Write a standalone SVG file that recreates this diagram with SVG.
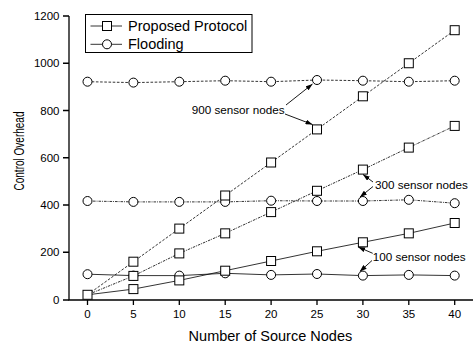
<svg xmlns="http://www.w3.org/2000/svg" xmlns:xlink="http://www.w3.org/1999/xlink" width="474" height="345" viewBox="0 0 474 345">
<style>
text{font-family:"Liberation Sans",Arial,sans-serif;fill:#000}
.tick{font-size:11.5px}
.ax{stroke:#000;stroke-width:1.3;fill:none}
.ln{fill:none;stroke:#000;stroke-width:0.8}
.d900{stroke-dasharray:2.6 1.6}
.d300{stroke-dasharray:2.6 1 0.9 1}
.mk{fill:#fff;stroke:#000;stroke-width:1}
.ann{font-size:11.7px}
.arr{stroke:#000;stroke-width:0.9;fill:none;marker-end:url(#ah)}
</style>
<defs>
<rect id="sq" x="-4.5" y="-4.5" width="9" height="9" class="mk"/>
<circle id="ci" r="4.5" class="mk"/>
<marker id="ah" viewBox="0 0 7 5" refX="7" refY="2.5" markerWidth="7" markerHeight="5" orient="auto" markerUnits="userSpaceOnUse">
<path d="M0,0 L7,2.5 L0,5 z" fill="#000"/>
</marker>
</defs>
<rect width="474" height="345" fill="#fff"/>
<g id="axes">
<path class="ax" d="M69,16 V300 H473"/>
<path class="ax" d="M63,300 H69 M63,252.25 H69 M63,205 H69 M63,157.75 H69 M63,110.5 H69 M63,63.25 H69 M63,16 H69"/>
<path class="ax" d="M87.5,300 V305 M133.4,300 V305 M179.3,300 V305 M225.2,300 V305 M271.1,300 V305 M317,300 V305 M362.9,300 V305 M408.8,300 V305 M454.7,300 V305"/>
<g class="tick" text-anchor="end">
<text x="59.5" y="303.5">0</text>
<text x="59.5" y="256.3">200</text>
<text x="59.5" y="209">400</text>
<text x="59.5" y="161.8">600</text>
<text x="59.5" y="114.5">800</text>
<text x="59.5" y="67.3">1000</text>
<text x="59.5" y="20">1200</text>
</g>
<g class="tick" text-anchor="middle">
<text x="87.5" y="318.3">0</text>
<text x="133.4" y="318.3">5</text>
<text x="179.3" y="318.3">10</text>
<text x="225.2" y="318.3">15</text>
<text x="271.1" y="318.3">20</text>
<text x="317" y="318.3">25</text>
<text x="362.9" y="318.3">30</text>
<text x="408.8" y="318.3">35</text>
<text x="454.7" y="318.3">40</text>
</g>
<text x="270.4" y="340.7" text-anchor="middle" font-size="14.5">Number of Source Nodes</text>
<text transform="translate(23.5,151) rotate(-90)" text-anchor="middle" font-size="15" textLength="79" lengthAdjust="spacingAndGlyphs">Control Overhead</text>
</g>
<g id="connectors">
<polyline class="ln d900" points="87.5,294.8 133.4,261.7 179.3,228.6 225.2,195.5 271.1,162.5 317,129.4 362.9,96.3 408.8,63.25 454.7,30.2"/>
<polyline class="ln d300" points="87.5,294.8 133.4,275.9 179.3,253.4 225.2,233.35 271.1,212.1 317,190.8 362.9,169.6 408.8,147.6 454.7,125.9"/>
<polyline class="ln" points="87.5,294.8 133.4,289.1 179.3,280.4 225.2,270.7 271.1,261 317,251.3 362.9,242.3 408.8,233.35 454.7,223"/>
<polyline class="ln d900" points="87.5,81.7 133.4,82.6 179.3,81.7 225.2,80.7 271.1,81.7 317,80 362.9,80.7 408.8,81.7 454.7,80.7"/>
<polyline class="ln d300" points="87.5,201 133.4,201.9 179.3,201.9 225.2,201.9 271.1,200.7 317,201 362.9,201 408.8,199.8 454.7,203.2"/>
<polyline class="ln" points="87.5,274.2 133.4,275.6 179.3,275.6 225.2,273.3 271.1,274.9 317,274 362.9,275.6 408.8,274.9 454.7,275.6"/>
</g>
<g id="flooding-markers">
<use xlink:href="#ci" x="87.5" y="81.7"/><use xlink:href="#ci" x="133.4" y="82.6"/><use xlink:href="#ci" x="179.3" y="81.7"/><use xlink:href="#ci" x="225.2" y="80.7"/><use xlink:href="#ci" x="271.1" y="81.7"/><use xlink:href="#ci" x="317" y="80"/><use xlink:href="#ci" x="362.9" y="80.7"/><use xlink:href="#ci" x="408.8" y="81.7"/><use xlink:href="#ci" x="454.7" y="80.7"/>
<use xlink:href="#ci" x="87.5" y="201"/><use xlink:href="#ci" x="133.4" y="201.9"/><use xlink:href="#ci" x="179.3" y="201.9"/><use xlink:href="#ci" x="225.2" y="201.9"/><use xlink:href="#ci" x="271.1" y="200.7"/><use xlink:href="#ci" x="317" y="201"/><use xlink:href="#ci" x="362.9" y="201"/><use xlink:href="#ci" x="408.8" y="199.8"/><use xlink:href="#ci" x="454.7" y="203.2"/>
<use xlink:href="#ci" x="87.5" y="274.2"/><use xlink:href="#ci" x="133.4" y="275.6"/><use xlink:href="#ci" x="179.3" y="275.6"/><use xlink:href="#ci" x="225.2" y="273.3"/><use xlink:href="#ci" x="271.1" y="274.9"/><use xlink:href="#ci" x="317" y="274"/><use xlink:href="#ci" x="362.9" y="275.6"/><use xlink:href="#ci" x="408.8" y="274.9"/><use xlink:href="#ci" x="454.7" y="275.6"/>
</g>
<g id="proposed-markers">
<use xlink:href="#sq" x="133.4" y="261.7"/><use xlink:href="#sq" x="179.3" y="228.6"/><use xlink:href="#sq" x="225.2" y="195.5"/><use xlink:href="#sq" x="271.1" y="162.5"/><use xlink:href="#sq" x="317" y="129.4"/><use xlink:href="#sq" x="362.9" y="96.3"/><use xlink:href="#sq" x="408.8" y="63.25"/><use xlink:href="#sq" x="454.7" y="30.2"/>
<use xlink:href="#sq" x="133.4" y="275.9"/><use xlink:href="#sq" x="179.3" y="253.4"/><use xlink:href="#sq" x="225.2" y="233.35"/><use xlink:href="#sq" x="271.1" y="212.1"/><use xlink:href="#sq" x="317" y="190.8"/><use xlink:href="#sq" x="362.9" y="169.6"/><use xlink:href="#sq" x="408.8" y="147.6"/><use xlink:href="#sq" x="454.7" y="125.9"/>
<use xlink:href="#sq" x="133.4" y="289.1"/><use xlink:href="#sq" x="179.3" y="280.4"/><use xlink:href="#sq" x="225.2" y="270.7"/><use xlink:href="#sq" x="271.1" y="261"/><use xlink:href="#sq" x="317" y="251.3"/><use xlink:href="#sq" x="362.9" y="242.3"/><use xlink:href="#sq" x="408.8" y="233.35"/><use xlink:href="#sq" x="454.7" y="223"/>
<use xlink:href="#sq" x="87.5" y="294.8"/>
</g>
<g id="annotations">
<text class="ann" x="191.7" y="113.8">900 sensor nodes</text>
<path class="arr" d="M286,105 L312.5,84"/>
<path class="arr" d="M285,114 L312.5,124.5"/>
<text class="ann" x="375" y="189">300 sensor nodes</text>
<path class="arr" d="M373,182 L363,174.5"/>
<path class="arr" d="M373,186.5 L360,197"/>
<text class="ann" x="372.7" y="261">100 sensor nodes</text>
<path class="arr" d="M372.7,253.3 L358.2,247"/>
<path class="arr" d="M372,260.5 L359.8,271.5"/>
</g>
<g id="legend">
<rect x="85.5" y="14.5" width="166.5" height="38" fill="#fff" stroke="#000" stroke-width="1"/>
<path class="ln" d="M90.5,26 H122 M90.5,44.3 H122"/>
<use xlink:href="#sq" x="107" y="26"/>
<use xlink:href="#ci" x="107" y="44.3"/>
<text x="128" y="31" font-size="14.5">Proposed Protocol</text>
<text x="128" y="49.3" font-size="14.5">Flooding</text>
</g>
</svg>
